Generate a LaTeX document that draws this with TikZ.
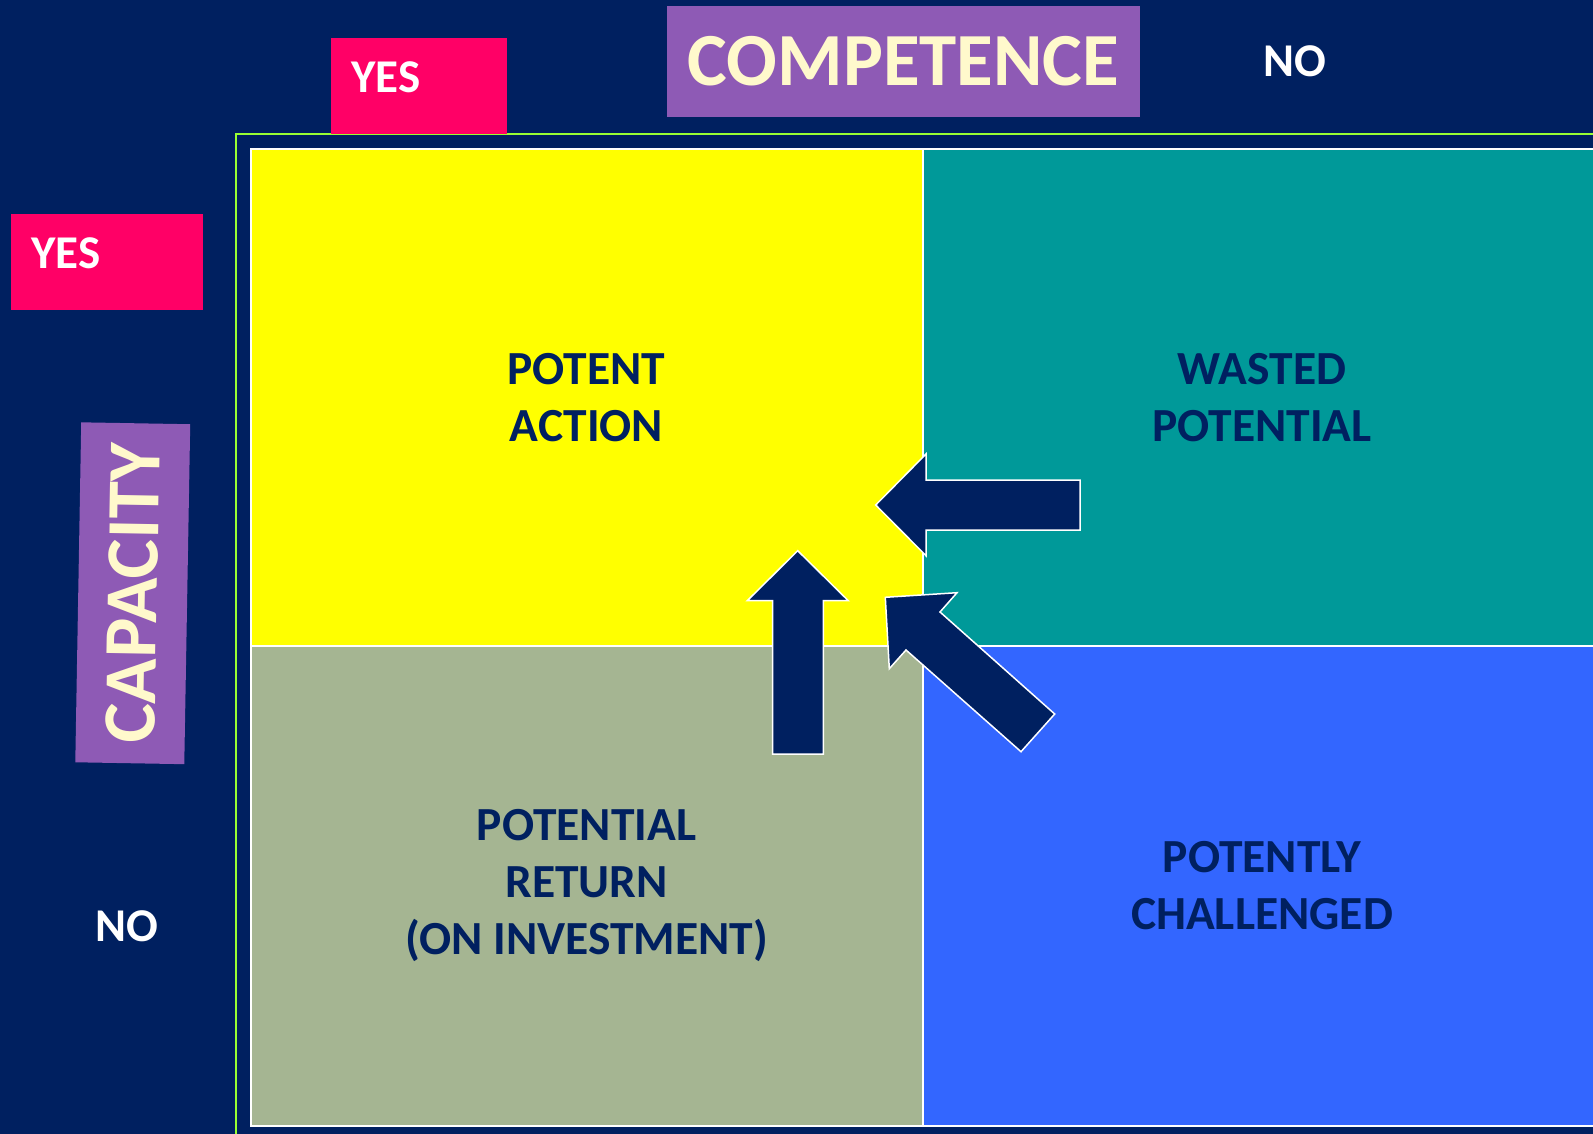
\documentclass[tikz,border=0pt]{standalone}
\usepackage{fontspec}
\setmainfont{Carlito}
\definecolor{navy}{HTML}{002060}
\definecolor{hotpink}{HTML}{FF0066}
\definecolor{lilac}{HTML}{8E5AB5}
\definecolor{cream}{HTML}{FFF9CC}
\definecolor{lime}{HTML}{99FF33}
\definecolor{qyellow}{HTML}{FFFF00}
\definecolor{qteal}{HTML}{009999}
\definecolor{qsage}{HTML}{A5B592}
\definecolor{qblue}{HTML}{3366FF}
\begin{document}
\begin{tikzpicture}[x=1pt,y=-1pt,
  quad/.style={draw=white, line width=2pt, inner sep=0pt, align=center, text=navy,
    font=\bfseries\fontsize{47.5}{57}\selectfont},
  pinkbox/.style={fill=hotpink, inner sep=0pt},
  axislbl/.style={text=white, inner sep=0pt, font=\bfseries\fontsize{47}{56}\selectfont},
  titlebox/.style={fill=lilac, inner sep=0pt, text=cream, font=\bfseries\fontsize{75}{90}\selectfont},
  blockarrow/.style={fill=navy, draw=white, line width=1.5pt, line join=miter}]
\useasboundingbox (0,0) rectangle (1593,1134);
\clip (0,0) rectangle (1593,1134);
\fill[navy] (0,0) rectangle (1593,1134);
% green frame
\draw[lime, line width=2pt] (235.5,1140) -- (235.5,134.5) -- (1600,134.5);
% quadrants
\node[quad, fill=qyellow, minimum width=672pt, minimum height=496pt] (pa) at (586.5,397.5) {POTENT\\ACTION};
\node[quad, fill=qteal, minimum width=679pt, minimum height=496pt] (wp) at (1262,397.5) {WASTED\\POTENTIAL};
\node[quad, fill=qsage, minimum width=672pt, minimum height=480pt] (pr) at (586.5,885.5) {POTENTIAL\\RETURN\\(ON INVESTMENT)};
\node[quad, fill=qblue, minimum width=679pt, minimum height=480pt] (pc) at (1262,885.5) {POTENTLY\\CHALLENGED};
% block arrows
\draw[blockarrow] (875.7,505) -- (926,454) -- (926,480) -- (1080,480) -- (1080,530) -- (926,530) -- (926,555.7) -- cycle;
\draw[blockarrow] (797.7,550.7) -- (848.3,600.7) -- (823.3,600.7) -- (823.3,754) -- (772.7,754) -- (772.7,600.7) -- (747.3,600.7) -- cycle;
\draw[blockarrow] (885.3,597.3) -- (957,592.7) -- (940,612) -- (1054.7,714) -- (1021,751.7) -- (906,650) -- (889.3,668.7) -- cycle;
% pink YES boxes
\node[pinkbox, minimum width=176pt, minimum height=96pt] (yesbox1) at (419,86) {};
\node[pinkbox, minimum width=192pt, minimum height=96pt] (yesbox2) at (107,262) {};
\node[axislbl, anchor=base west] (yes1) at (351,93) {YES};
\node[axislbl, anchor=base west] (yes2) at (31,269) {YES};
\node[axislbl, anchor=base] (no1) at (1294.5,77) {NO};
\node[axislbl, anchor=base] (no2) at (126.7,941) {NO};
% titles
\node[titlebox, minimum width=473pt, minimum height=111pt] (comp) at (903.5,61.5) {COMPETENCE};
\node[titlebox, rotate=89, minimum width=340pt, minimum height=109pt] (cap) at (132.75,593.25) {CAPACITY};
\end{tikzpicture}
\end{document}
